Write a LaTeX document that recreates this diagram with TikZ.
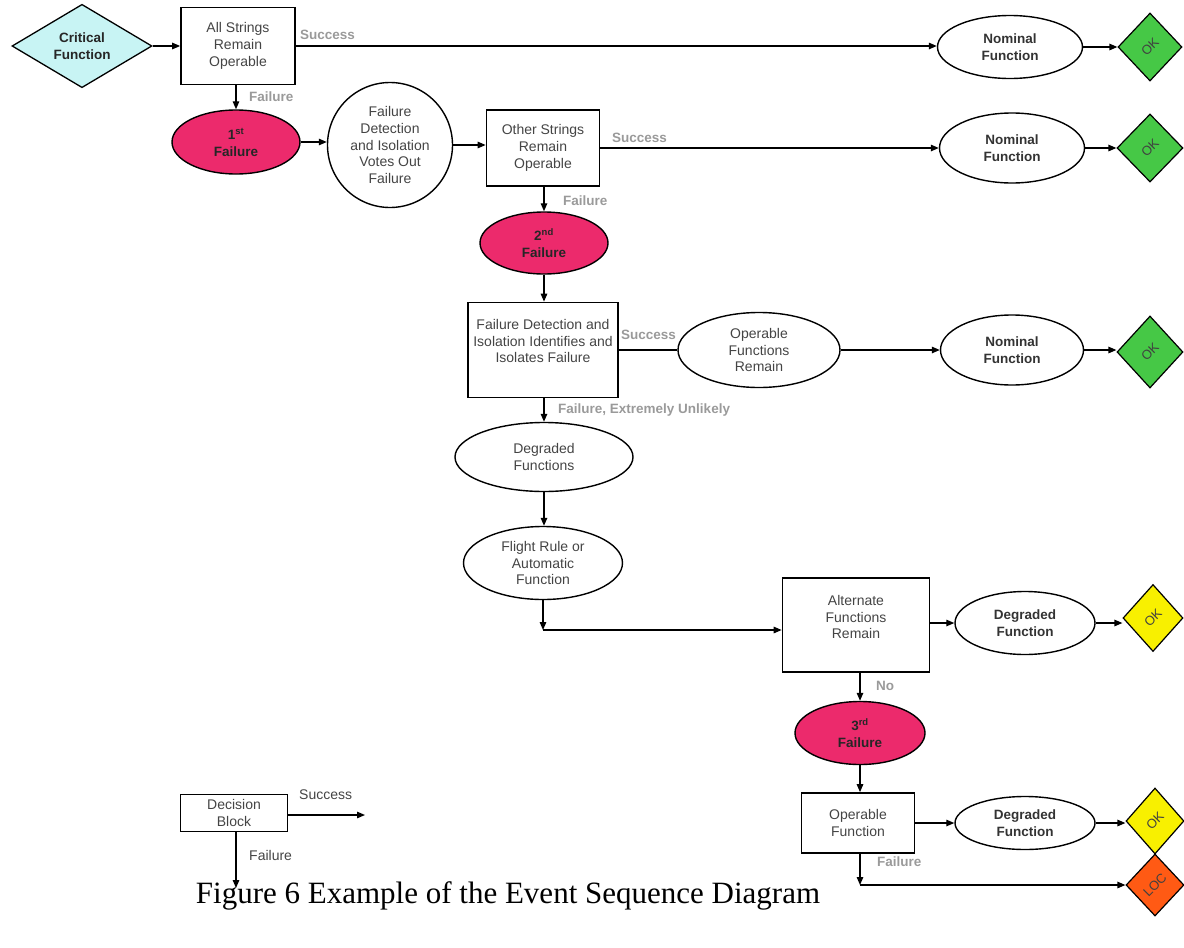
\documentclass[tikz,border=0pt]{standalone}
\usepackage{fontspec}
\setmainfont{Liberation Serif}
\newfontfamily\diag{Liberation Sans}
\usetikzlibrary{shapes.geometric,arrows.meta}

\definecolor{critcyan}{HTML}{C8F4F4}
\definecolor{failpink}{HTML}{EC2A6C}
\definecolor{okgreen}{HTML}{46C846}
\definecolor{okyellow}{HTML}{F8F000}
\definecolor{locorange}{HTML}{FF5A14}
\definecolor{inktext}{HTML}{444444}
\definecolor{lbltext}{HTML}{9A9A9A}

\tikzset{
  base/.style={font=\diag\fontsize{14}{16.8}\selectfont, text=inktext, align=center, inner sep=0pt},
  box/.style={base, draw, line width=1.7pt, rectangle},
  oval/.style={base, draw, line width=1.4pt, ellipse},
  failoval/.style={oval, fill=failpink, text=black!85, font=\diag\bfseries\fontsize{13.5}{16.8}\selectfont},
  endoval/.style={oval, text=black!80, font=\diag\bfseries\fontsize{13.5}{16.8}\selectfont},
  endstate/.style={diamond, draw, line width=1.2pt, inner sep=0pt, text=black!75,
    font=\diag\fontsize{13}{15}\selectfont},
  critd/.style={diamond, draw, line width=1.3pt, fill=critcyan, inner sep=0pt, align=center,
    text=black!85, font=\diag\bfseries\fontsize{13.5}{16.5}\selectfont},
  lbl/.style={font=\diag\bfseries\fontsize{13.5}{15}\selectfont, text=lbltext, anchor=west, inner sep=0pt},
  legendlbl/.style={font=\diag\fontsize{14}{16}\selectfont, text=inktext, anchor=west, inner sep=0pt},
  conn/.style={line width=1.3pt, -{Triangle[length=8pt,width=6.5pt]}},
  plainconn/.style={line width=1.3pt},
}

\begin{document}
\begin{tikzpicture}[x=1pt,y=-1pt]
\useasboundingbox (0,0) rectangle (1184,948);

% ---- first row
\node[critd, minimum width=140, minimum height=70] (crit) at (82,46) {Critical\\Function};
\node[box, minimum width=114, minimum height=77] (all) at (238,46) {All Strings\\Remain\\Operable};
\node[endoval, minimum width=145, minimum height=63] (nom1) at (1010,47) {Nominal\\Function};
\node[endstate, fill=okgreen, minimum width=64, minimum height=68] (ok1) at (1150,47) {\rotatebox{45}{OK}};

% ---- second row
\node[failoval, minimum width=128, minimum height=64] (f1) at (236,142) {1\textsuperscript{st}\\Failure};
\node[oval, circle, minimum size=125] (fdivote) at (390,145) {Failure\\Detection\\and Isolation\\Votes Out\\Failure};
\node[box, minimum width=113, minimum height=76] (other) at (543,148) {Other Strings\\Remain\\Operable};
\node[endoval, minimum width=145, minimum height=70] (nom2) at (1012,148) {Nominal\\Function};
\node[endstate, fill=okgreen, minimum width=66, minimum height=68] (ok2) at (1150,148) {\rotatebox{45}{OK}};

% ---- second failure and isolation
\node[failoval, minimum width=128, minimum height=62] (f2) at (544,243) {2\textsuperscript{nd}\\Failure};
\node[box, minimum width=150, minimum height=95] (fdiiso) at (543,350) {};
\node[base] (fdiisotext) at (543,341) {Failure Detection and\\Isolation Identifies and\\Isolates Failure};
\node[oval, minimum width=162, minimum height=75] (opremain) at (759,350) {Operable\\Functions\\Remain};
\node[endoval, minimum width=143, minimum height=70] (nom3) at (1012,350) {Nominal\\Function};
\node[endstate, fill=okgreen, minimum width=66, minimum height=72] (ok3) at (1150,352) {\rotatebox{45}{OK}};

% ---- degraded branch
\node[oval, minimum width=178, minimum height=69] (degr) at (544,457) {Degraded\\Functions};
\node[oval, minimum width=159, minimum height=73] (flight) at (543,563) {Flight Rule or\\Automatic\\Function};
\coordinate (bend1) at (543,630);
\node[box, minimum width=147, minimum height=94] (alt) at (856,625) {};
\node[base] (alttext) at (856,617) {Alternate\\Functions\\Remain};
\node[endoval, minimum width=140, minimum height=63] (dfun1) at (1025,623) {Degraded\\Function};
\node[endstate, fill=okyellow, minimum width=60, minimum height=67] (ok4) at (1153,618) {\rotatebox{45}{OK}};

% ---- third failure
\node[failoval, minimum width=130, minimum height=63] (f3) at (860,733) {3\textsuperscript{rd}\\Failure};
\node[box, minimum width=113, minimum height=60] (opfun) at (858,823) {Operable\\Function};
\node[endoval, minimum width=140, minimum height=53] (dfun2) at (1025,823) {Degraded\\Function};
\node[endstate, fill=okyellow, minimum width=58, minimum height=66] (ok5) at (1155,821) {\rotatebox{45}{OK}};
\coordinate (bend2) at (860,885);
\node[endstate, fill=locorange, minimum width=58, minimum height=62] (loc) at (1155,885) {\rotatebox{45}{LOC}};

% ---- connectors
\draw[conn] (crit.east) -- (all.west);
\draw[conn] (all.east) -- (all.east -| nom1.west);
\draw[conn] (nom1.east) -- (ok1.west);
\draw[conn] (all.south -| f1.north) -- (f1.north);
\draw[conn] (f1.east) -- (f1.east -| fdivote.west);
\draw[conn] (fdivote.east) -- (fdivote.east -| other.west);
\draw[conn] (other.east) -- (other.east -| nom2.west);
\draw[conn] (nom2.east) -- (ok2.west);
\draw[conn] (other.south -| f2.north) -- (f2.north);
\draw[conn] (f2.south) -- (f2.south |- fdiiso.north);
\draw[plainconn] (fdiiso.east) -- (opremain.west);
\draw[conn] (opremain.east) -- (nom3.west);
\draw[conn] (nom3.east) -- (nom3.east -| ok3.west);
\draw[conn] (fdiiso.south -| degr.north) -- (degr.north);
\draw[conn] (degr.south) -- (degr.south |- flight.north);
\draw[conn] (flight.south) -- (bend1);
\draw[conn] (bend1) -- (bend1 -| alt.west);
\draw[conn] (alt.east |- dfun1.west) -- (dfun1.west);
\draw[conn] (dfun1.east) -- (dfun1.east -| ok4.west);
\draw[conn] (alt.south -| f3.north) -- (f3.north);
\draw[conn] (f3.south) -- (f3.south |- opfun.north);
\draw[conn] (opfun.east) -- (dfun2.west);
\draw[conn] (dfun2.east) -- (dfun2.east -| ok5.west);
\draw[conn] (opfun.south -| bend2) -- (bend2);
\draw[conn] (bend2) -- (loc.west);

% ---- branch labels
\node[lbl] (s1) at (300,35) {Success};
\node[lbl] (l1) at (249,97) {Failure};
\node[lbl] (s2) at (612,138) {Success};
\node[lbl] (l2) at (563,201) {Failure};
\node[lbl] (s3) at (621,335) {Success};
\node[lbl] (l3) at (558,410) {Failure, Extremely Unlikely};
\node[lbl] (l4) at (876,686) {No};
\node[lbl] (l5) at (877,862) {Failure};

% ---- legend
\node[box, line width=1.5pt, minimum width=107, minimum height=37] (legend) at (234,813) {Decision\\Block};
\coordinate (legsucc) at (365,815);
\coordinate (legfail) at (236,888);
\draw[conn] (legend.east |- legsucc) -- (legsucc);
\draw[conn] (legend.south -| legfail) -- (legfail);
\node[legendlbl] (legs) at (299,795) {Success};
\node[legendlbl] (legf) at (249,855) {Failure};

% ---- caption
\node[font=\fontsize{31}{34}\selectfont, inner sep=0pt] (caption) at (508,896) {Figure 6 Example of the Event Sequence Diagram};
\end{tikzpicture}
\end{document}
